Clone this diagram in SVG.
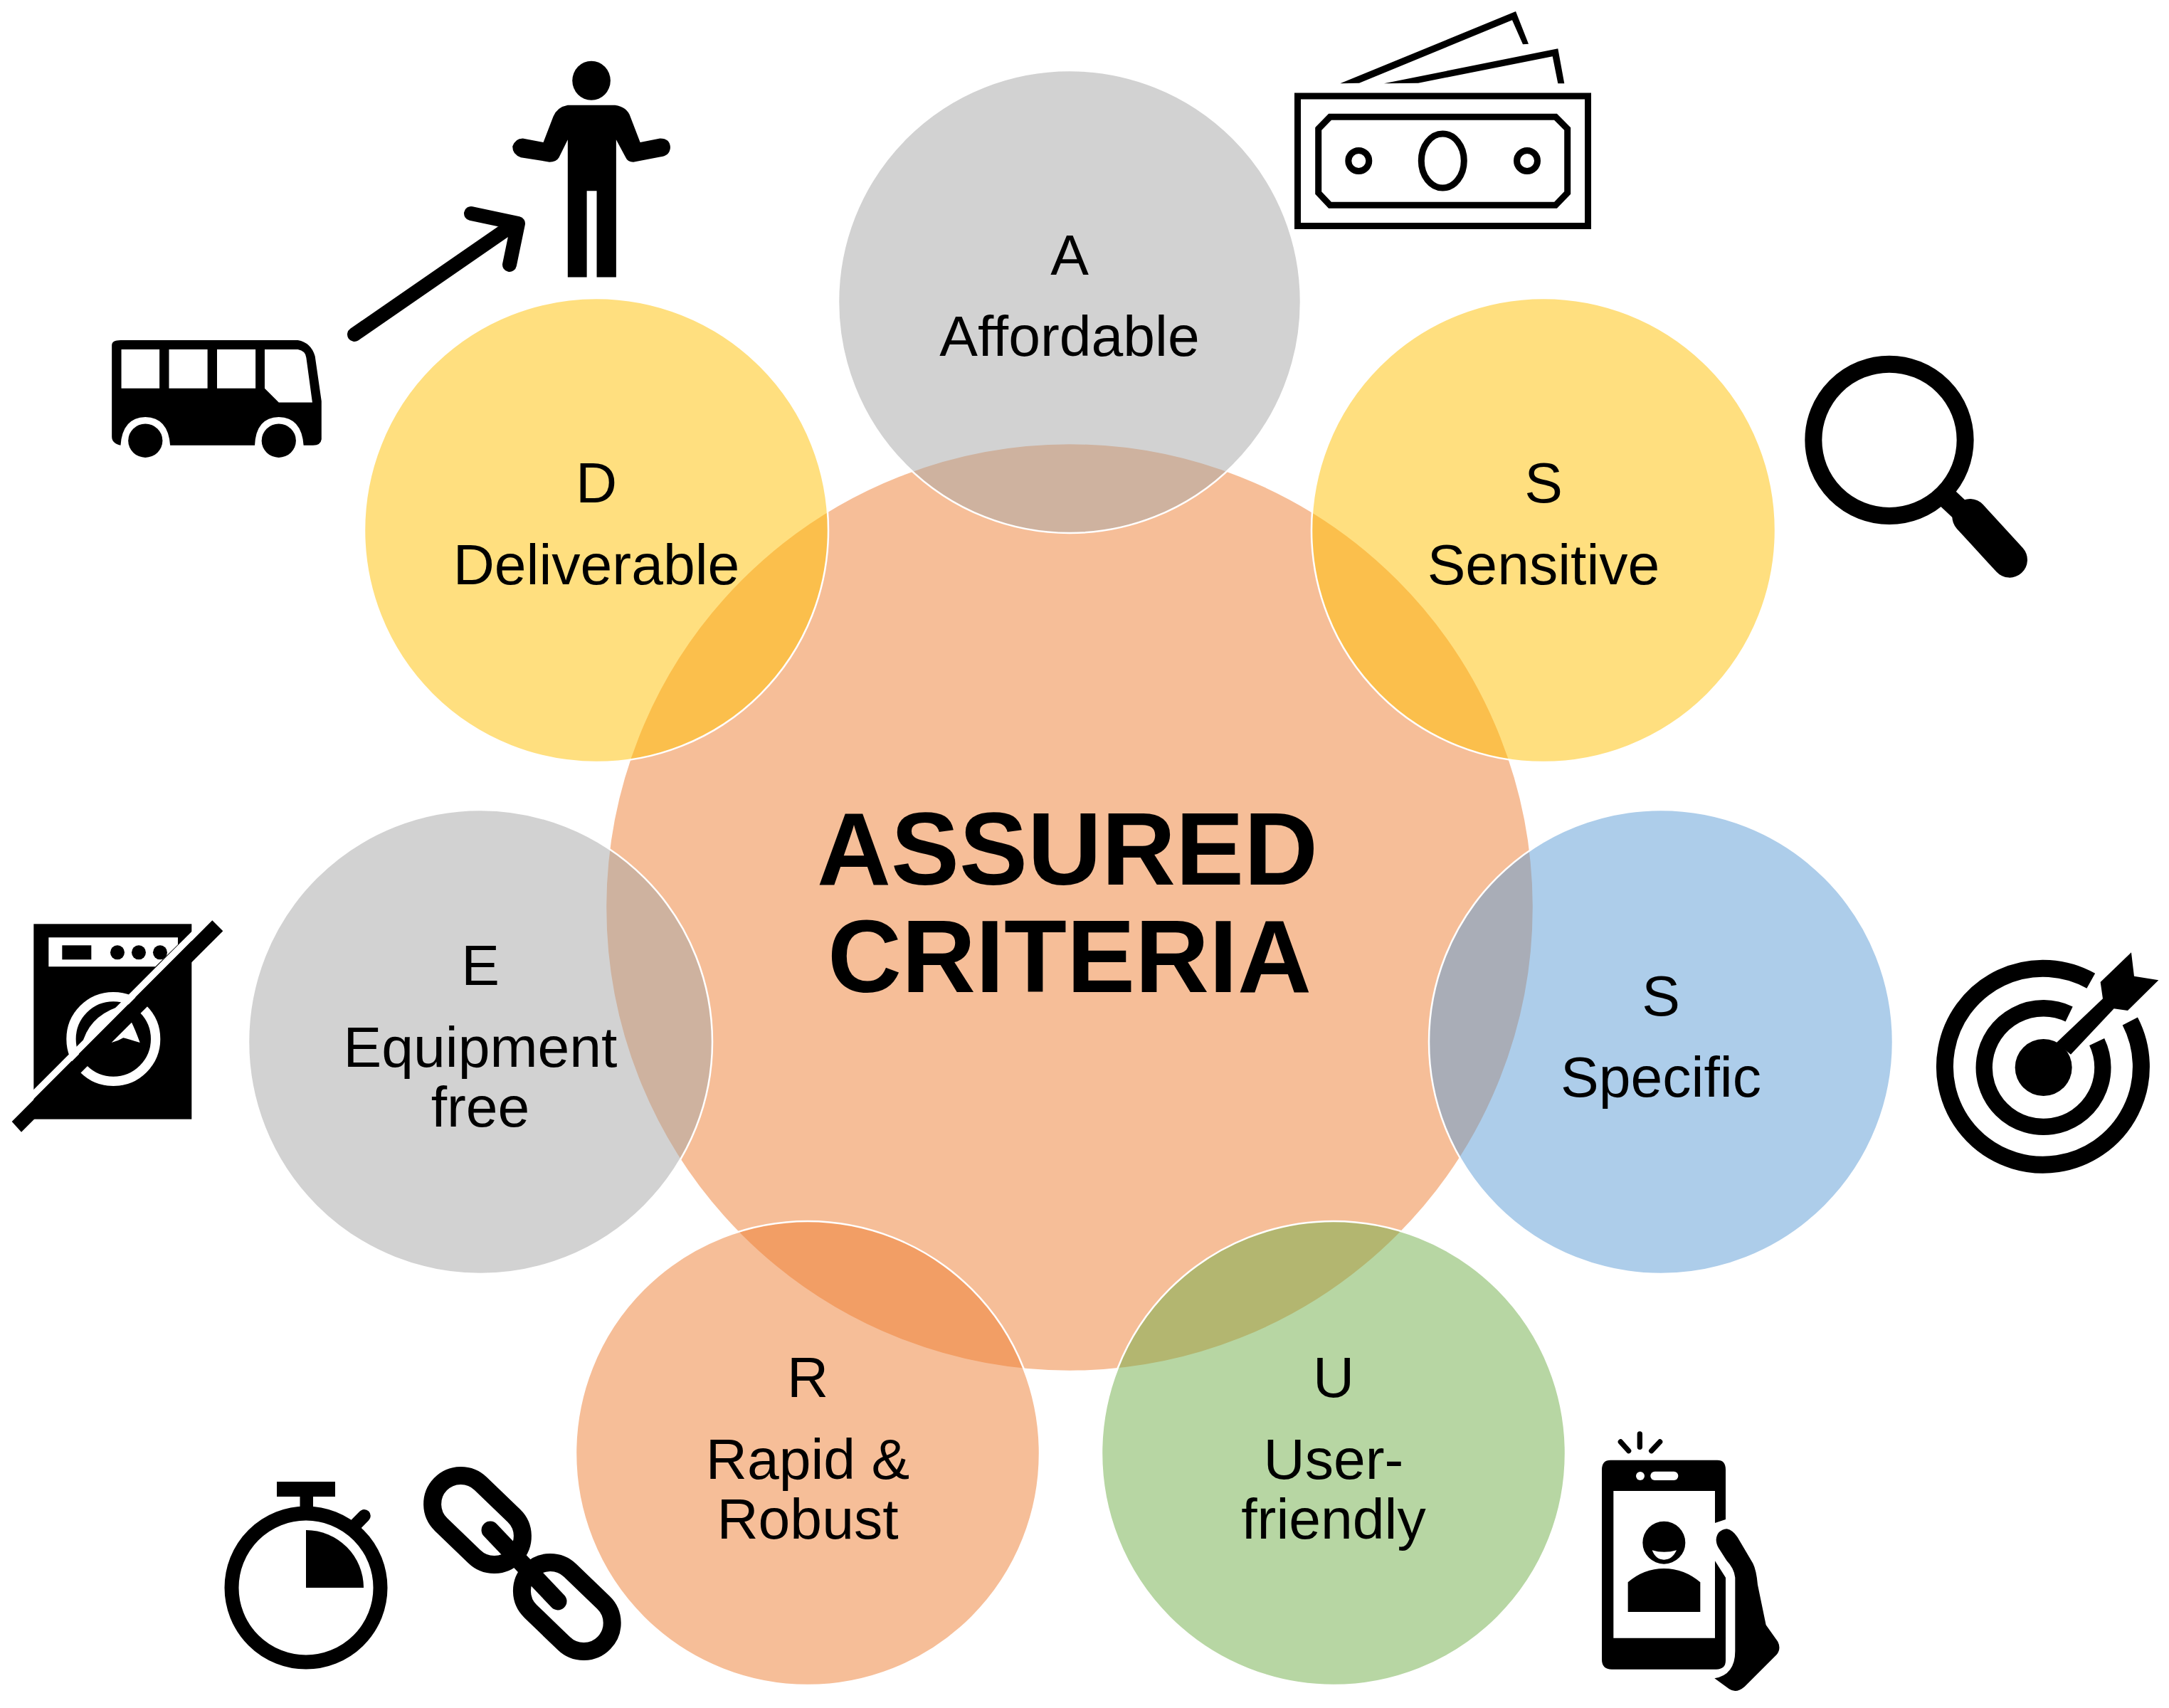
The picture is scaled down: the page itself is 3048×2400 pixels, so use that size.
<svg xmlns="http://www.w3.org/2000/svg" width="3048" height="2400" viewBox="0 0 3048 2400">
<style>
text{font-family:"Liberation Sans",Arial,sans-serif;text-anchor:middle;fill:#000}
.l{font-size:80.5px}
.t{font-size:144px;font-weight:700}
.c{stroke:#fff;stroke-width:2.5;fill-opacity:.5}
.k{fill:#000}
.w{fill:#fff}
.s{fill:none;stroke:#000}
</style>
<rect width="3048" height="2400" fill="#fff"/>
<g id="node-center"><circle class="c" cx="1503" cy="1275" r="652" fill="#ED7D31"/>
<text class="t" x="1500" y="1243">ASSURED</text><text class="t" x="1503" y="1394">CRITERIA</text></g>
<g id="node-a"><circle class="c" cx="1503" cy="424" r="325" fill="#A5A5A5"/>
<text class="l" x="1503" y="386">A</text><text class="l" x="1503" y="500">Affordable</text></g>
<g id="node-d"><circle class="c" cx="838" cy="745" r="326" fill="#FFC000"/>
<text class="l" x="838" y="706">D</text><text class="l" x="838" y="821">Deliverable</text></g>
<g id="node-s1"><circle class="c" cx="2169" cy="745" r="326" fill="#FFC000"/>
<text class="l" x="2169" y="706">S</text><text class="l" x="2169" y="821">Sensitive</text></g>
<g id="node-e"><circle class="c" cx="675" cy="1464" r="326" fill="#A5A5A5"/>
<text class="l" x="675" y="1384">E</text><text class="l" x="675" y="1499">Equipment</text><text class="l" x="675" y="1583">free</text></g>
<g id="node-s2"><circle class="c" cx="2334" cy="1464" r="326" fill="#5B9BD5"/>
<text class="l" x="2334" y="1427">S</text><text class="l" x="2334" y="1541">Specific</text></g>
<g id="node-r"><circle class="c" cx="1135" cy="2042" r="326" fill="#ED7D31"/>
<text class="l" x="1135" y="1963">R</text><text class="l" x="1135" y="2078">Rapid &amp;</text><text class="l" x="1135" y="2162">Robust</text></g>
<g id="node-u"><circle class="c" cx="1874" cy="2042" r="326" fill="#70AD47"/>
<text class="l" x="1874" y="1963">U</text><text class="l" x="1874" y="2078">User-</text><text class="l" x="1874" y="2162">friendly</text></g>

<g id="connectors">
<path class="s" stroke-width="20" stroke-linecap="round" stroke-linejoin="round" d="M498,470 L718,318 M662,300 L728,314 L716,372"/>
</g>

<g id="icon-money">
<rect class="s" x="1823.5" y="135" width="408" height="182.5" stroke-width="9"/>
<path class="s" stroke-width="9" d="M1852.7,181 L1869,164.3 H2186 L2202.7,181 V271 L2186,288.3 H1869 L1852.7,271 Z"/>
<circle class="s" cx="1909.3" cy="226" r="14.5" stroke-width="9"/>
<circle class="s" cx="2146" cy="226" r="14.5" stroke-width="9"/>
<ellipse class="s" cx="2027.3" cy="226" rx="30" ry="38" stroke-width="9"/>
<path class="k" d="M1883.3,117.3 L2130,16 L2148,61.7 L2140,62.3 L2125,28.3 L1910,116.7Z"/>
<path class="k" d="M1945,117.3 L2189.3,68.3 L2198.3,117.3 L2189.3,117.3 L2181.7,79.3 L1993,116.7Z"/>
</g>

<g id="icon-person" transform="translate(140 70) scale(.5357 .3827)">
<ellipse class="k" cx="1290" cy="113" rx="50" ry="72"/>
<path class="k" d="M1228,203 H1352 Q1384,210 1392,245 L1418,340 L1470,325 Q1497,325 1497,360 Q1495,390 1470,393 L1400,412 Q1385,412 1380,395 L1355,330 V835 H1304 V518 H1278 V835 H1228 V330 L1205,395 Q1198,412 1180,412 L1105,395 Q1083,385 1083,355 Q1090,325 1110,325 L1164,340 L1190,245 Q1200,210 1228,203 Z"/>
</g>

<g id="icon-bus" transform="translate(140 70) scale(.5357 .3827)">
<path class="k" d="M55,1066 H520 Q555,1075 565,1125 L582,1290 V1430 Q580,1452 560,1452 H535 Q530,1350 470,1348 Q410,1350 407,1452 H185 Q180,1350 120,1348 Q60,1350 55,1452 Q32,1445 32,1420 V1085 Q32,1066 55,1066Z"/>
<rect class="w" x="57" y="1100" width="100" height="143"/>
<rect class="w" x="182" y="1100" width="101" height="143"/>
<rect class="w" x="308" y="1100" width="101" height="143"/>
<path class="w" d="M433,1100 H520 Q540,1105 542,1130 L558,1295 H470 L433,1243Z"/>
<ellipse class="k" cx="120" cy="1435" rx="45" ry="62"/>
<ellipse class="k" cx="470" cy="1435" rx="45" ry="62"/>
</g>

<g id="icon-washer" transform="translate(0 1270) scale(.3333)">
<rect class="k" x="142" y="85" width="666" height="823"/>
<path class="w" d="M205,142 H750 V172 L655,265 H205Z"/>
<rect class="k" x="262" y="175" width="123" height="60"/>
<circle class="k" cx="495" cy="205" r="30"/><circle class="k" cx="585" cy="205" r="30"/><circle class="k" cx="675" cy="205" r="30"/>
<circle cx="478" cy="570" r="178" fill="none" stroke="#fff" stroke-width="40"/>
<path class="w" d="M345,598 Q370,480 495,435 L520,440 L360,600Z"/>
<path class="w" d="M470,585 L555,500 Q570,530 590,585 Q540,570 520,565 Q495,580 470,585Z"/>
<path d="M120,825 L825,120" stroke="#fff" stroke-width="28" fill="none"/>
<path class="k" d="M895,70 L940,115 L90,962 L50,918Z"/>
</g>

<g id="icon-stopwatch">
<circle class="s" cx="430" cy="2231" r="104.5" stroke-width="20"/>
<rect class="k" x="389" y="2082" width="82" height="21"/>
<rect class="k" x="421.5" y="2100" width="18.5" height="30"/>
<path class="k" d="M430,2150 A81,81 0 0 1 511,2231 H430Z"/>
<path class="s" d="M497,2145 L511.8,2130" stroke-width="18" stroke-linecap="round"/>
</g>

<g id="icon-chain" fill="none" stroke="#000" stroke-width="25">
<rect x="598.5" y="2096" width="145" height="80" rx="40" transform="rotate(44 671 2136)"/>
<rect x="724.3" y="2218" width="145" height="80" rx="40" transform="rotate(44 796.8 2258)"/>
<path d="M689,2150 L784,2250" stroke-linecap="round"/>
</g>

<g id="icon-phone" transform="translate(2220 2000) scale(.3333)">
<path class="k" d="M130,155 H580 Q615,155 615,195 V405 L570,420 V285 H142 V905 H570 V580 L615,650 V1000 Q615,1037 575,1037 H135 Q93,1037 93,995 V195 Q93,155 130,155Z"/>
<rect class="w" x="298" y="203" width="117" height="37" rx="18"/><circle class="w" cx="255" cy="222" r="18"/>
<path class="s" stroke-width="22" stroke-linecap="round" d="M253,45 V100 M172,78 L206,116 M338,78 L302,116"/>
<circle class="k" cx="355" cy="503" r="90"/>
<path class="w" d="M305,535 Q355,550 408,535 Q390,575 355,575 Q320,575 305,535Z"/>
<path class="k" d="M203,670 Q270,612 355,612 Q440,612 508,670 V795 H203Z"/>
<path class="k" d="M575,490 Q578,450 620,445 Q645,450 665,480 L730,590 Q745,620 750,680 L785,850 L835,920 Q850,950 830,975 L695,1110 Q660,1140 630,1120 L568,1075 Q655,1060 655,960 V650 Q650,610 620,580 L585,525 Q575,510 575,490Z"/>
</g>

<g id="icon-target" transform="translate(2700 1320) scale(.3333)">
<path class="s" stroke-width="72" d="M715,175 A414,414 0 1 0 880,345"/>
<path class="s" stroke-width="70" d="M623,315 A250,250 0 1 0 740,432"/>
<circle class="k" cx="515" cy="540" r="120"/>
<path class="k" d="M570,435 L765,250 L755,180 L885,55 L897,155 L1000,172 L870,300 L812,292 L630,485Z"/>
</g>

<g id="icon-magnifier" transform="translate(2520 480) scale(.3333)">
<circle class="s" cx="405" cy="415" r="320" stroke-width="72"/>
<path class="s" d="M650,660 L730,735" stroke-width="90"/>
<path class="s" d="M745,738 L912,920" stroke-width="150" stroke-linecap="round"/>
</g>
</svg>
